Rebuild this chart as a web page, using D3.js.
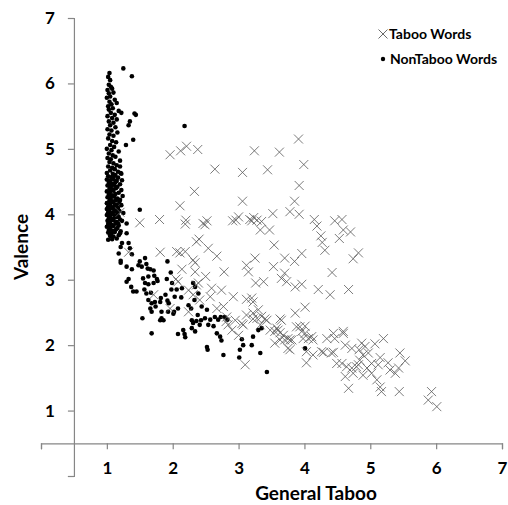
<!DOCTYPE html>
<html>
<head>
<meta charset="utf-8">
<script src="https://cdn.jsdelivr.net/npm/d3@7"></script>
<style>
body { margin: 0; background: #fff; }
svg { display: block; }
</style>
</head>
<body>
<script>

var xTicks = [0, 1, 2, 3, 4, 5, 6, 7];
var yTicks = [0, 1, 2, 3, 4, 5, 6, 7];
var legendLabels = ["Taboo Words", "NonTaboo Words"];

// Taboo words: [general taboo, valence]
var tabooPoints = [
[3.91,5.15],[1.96,4.91],[2.12,4.97],[2.21,5.04],[2.38,4.99],[3.24,4.97],[3.62,4.95],[3.99,4.76],
[2.64,4.69],[3.06,4.64],[3.44,4.68],[3.92,4.44],[2.33,4.35],[3.06,4.20],[3.85,4.20],[2.11,4.13],
[1.80,3.92],[2.20,3.91],[2.19,3.85],[2.46,3.86],[2.52,3.90],[2.49,3.84],[2.91,3.90],[3.00,3.96],
[2.96,3.91],[3.17,3.92],[3.23,3.95],[3.28,3.91],[3.20,3.90],[3.35,3.89],[3.33,3.76],[3.47,3.76],
[3.52,4.01],[3.78,4.04],[3.92,4.00],[4.15,3.92],[4.19,3.82],[4.25,3.67],[4.27,3.57],[4.31,3.45],
[4.46,3.90],[4.57,3.92],[4.53,3.63],[4.59,3.76],[2.40,3.62],[2.36,3.58],[3.54,3.53],[1.81,3.42],
[2.06,3.43],[2.11,3.41],[2.19,3.43],[2.31,3.30],[2.34,3.26],[2.67,3.36],[2.54,3.48],[3.25,3.33],
[3.12,3.22],[3.70,3.33],[3.53,3.20],[3.96,3.40],[3.85,3.28],[4.74,3.32],[4.82,3.41],[4.70,3.73],
[4.42,3.11],[3.96,2.93],[4.21,2.85],[4.39,2.77],[4.67,2.85],[4.01,2.58],[3.93,2.28],[4.01,2.18],
[4.11,2.13],[3.98,2.10],[4.34,2.10],[4.44,2.18],[4.59,2.18],[4.46,2.10],[4.13,1.85],[4.03,1.73],
[4.29,1.89],[4.44,1.89],[4.62,2.00],[4.72,1.95],[4.87,2.03],[4.83,1.93],[4.89,1.85],[4.84,1.77],
[5.07,2.02],[5.20,2.10],[5.15,1.81],[5.12,1.70],[5.27,1.73],[5.30,1.62],[5.45,1.88],[5.53,1.76],
[5.43,1.65],[5.38,1.57],[4.49,1.72],[4.64,1.67],[4.72,1.65],[4.79,1.67],[4.74,1.57],[4.62,1.52],
[4.95,1.65],[4.89,1.54],[5.02,1.57],[5.10,1.47],[5.17,1.29],[5.15,1.36],[4.67,1.34],[5.44,1.29],
[5.93,1.29],[5.88,1.16],[6.01,1.06],[1.33,3.42],[1.50,3.87],[1.20,4.03],[2.14,3.16],[2.34,3.12],
[2.78,3.12],[3.15,3.12],[3.70,3.10],[3.65,3.02],[2.05,3.01],[2.08,2.97],[2.24,2.84],[2.36,2.92],
[2.39,2.95],[2.59,2.87],[2.57,2.74],[2.74,2.84],[2.92,2.74],[3.12,2.70],[3.20,2.72],[3.22,2.66],
[3.26,2.95],[3.38,2.97],[3.86,2.89],[2.31,2.77],[1.71,2.77],[1.96,2.56],[2.24,2.51],[2.41,2.69],
[2.67,2.56],[2.77,2.59],[2.82,2.43],[2.81,2.36],[2.95,2.38],[3.12,2.46],[3.22,2.49],[3.28,2.41],
[3.30,2.54],[3.07,2.31],[3.33,2.31],[3.43,2.38],[3.48,2.23],[3.58,2.26],[3.63,2.19],[3.65,2.38],
[3.70,2.08],[3.78,2.08],[3.75,1.95],[3.86,2.49],[3.88,2.28],[3.10,1.70],[4.01,2.29],[3.96,2.21],
[3.55,2.21],[3.60,2.23],[3.68,2.15],[3.75,2.10],[3.81,2.08],[3.63,2.08],[3.55,2.03],[3.78,1.93],
[4.06,2.10],[4.13,2.08],[4.59,2.21],[4.03,1.90],[4.26,1.90],[4.41,1.88],[2.84,2.31],[3.00,2.15],
[2.90,2.23],[3.05,2.33],[4.92,1.98],[4.97,1.88],[4.57,1.72],[4.82,1.70],[5.02,1.72],[3.35,2.44],
[3.22,2.40],[3.40,2.40],[3.63,2.40],[3.73,2.97],[2.50,3.05]
];

// NonTaboo words: [general taboo, valence]
var nonTabooPoints = [
[1.04,6.16],[1.02,6.10],[1.05,6.05],[1.03,5.98],[1.06,5.95],[1.01,5.90],[1.08,5.92],[1.03,5.85],
[1.10,5.86],[1.05,5.80],[1.00,5.78],[1.12,5.75],[1.04,5.72],[1.07,5.68],[1.02,5.65],[1.15,5.70],
[1.09,5.62],[1.03,5.60],[1.18,5.58],[1.06,5.55],[1.12,5.52],[1.01,5.50],[1.22,5.55],[1.08,5.47],
[1.15,5.45],[1.25,6.23],[1.38,6.11],[1.42,5.54],[1.44,5.52],[1.35,5.42],[1.33,5.36],[1.40,5.14],
[1.29,5.06],[2.18,5.35],
[1.03,5.42],[1.10,5.40],[1.05,5.36],[1.13,5.33],[1.01,5.30],[1.07,5.28],[1.16,5.25],[1.04,5.22],
[1.10,5.20],[1.02,5.16],[1.08,5.12],[1.14,5.10],[1.05,5.06],[1.11,5.03],[1.00,5.00],[1.07,4.98],
[1.18,4.96],[1.03,4.93],[1.09,4.90],[1.13,4.88],[1.01,4.86],[1.06,4.84],[1.20,4.82],[1.04,4.80],
[1.10,4.78],[1.15,4.75],[1.02,4.73],[1.08,4.71],[1.12,4.69],[1.05,4.67],[1.17,4.65],[1.00,4.63],
[1.09,4.62],[1.13,4.60],[1.22,4.62],[1.20,4.73],[1.21,4.63],[1.23,4.52],
[1.02,4.58],[1.07,4.57],[1.12,4.59],[1.17,4.56],[1.00,4.53],[1.05,4.52],[1.10,4.54],[1.15,4.51],
[1.03,4.48],[1.08,4.47],[1.13,4.49],[1.20,4.46],[1.01,4.44],[1.06,4.43],[1.11,4.45],[1.16,4.42],
[1.04,4.39],[1.09,4.38],[1.14,4.40],[1.22,4.37],[1.00,4.35],[1.05,4.34],[1.10,4.36],[1.18,4.33],
[1.03,4.30],[1.08,4.29],[1.13,4.31],[1.24,4.28],[1.01,4.26],[1.06,4.25],[1.11,4.27],[1.16,4.24],
[1.20,4.22],[1.04,4.21],[1.09,4.20],[1.14,4.22],[1.19,4.19],[1.00,4.17],[1.05,4.16],[1.10,4.18],
[1.15,4.15],[1.22,4.14],[1.02,4.12],[1.07,4.11],[1.12,4.13],[1.17,4.10],[1.00,4.08],[1.04,4.07],
[1.09,4.09],[1.14,4.06],[1.19,4.05],[1.02,4.03],[1.06,4.02],[1.11,4.04],[1.16,4.01],[1.25,4.02],
[1.00,3.99],[1.05,3.98],[1.09,4.00],[1.13,3.97],[1.18,3.96],[1.03,3.94],[1.07,3.93],[1.12,3.95],
[1.20,3.92],[1.01,3.90],[1.05,3.89],[1.10,3.91],[1.15,3.88],[1.23,3.90],[1.02,3.85],[1.07,3.84],
[1.13,3.86],[1.18,3.83],[1.00,3.81],[1.05,3.80],[1.10,3.82],[1.16,3.79],[1.03,3.76],[1.08,3.75],
[1.14,3.77],[1.21,3.74],[1.02,3.72],[1.07,3.71],[1.12,3.73],[1.05,3.67],[1.10,3.66],[1.18,3.68],
[1.08,3.62],[1.15,3.63],
[1.50,4.07],[1.30,3.86],[1.15,3.96],[1.17,3.86],[1.05,3.68],[1.02,3.61],[1.20,3.71],[1.30,3.71],
[1.23,3.56],[1.33,3.56],[1.21,3.50],[1.35,3.48],[1.18,3.40],[1.38,3.39],[1.21,3.29],[1.21,3.26],
[1.58,3.33],[1.50,3.28],[1.48,3.22],[1.53,3.20],[1.30,3.20],[1.38,3.16],[1.60,3.24],[1.62,3.17],
[1.66,3.16],[1.71,3.14],[1.92,3.28],[1.97,3.11],[1.55,3.02],[1.63,3.05],[1.72,3.06],[1.76,3.01],
[1.33,3.01],[1.30,2.97],[1.37,2.89],[1.40,2.82],[1.45,2.82],[1.58,2.95],[1.63,2.93],[1.71,2.95],
[1.77,2.98],[1.57,2.85],[1.60,2.79],[1.67,2.80],[1.91,3.01],[1.99,2.95],[1.98,2.85],[2.06,2.85],
[1.89,2.77],[1.82,2.72],[1.81,2.66],[1.63,2.69],[1.68,2.64],[1.73,2.66],[2.14,2.87],[2.03,2.74],
[2.13,2.73],[1.92,2.68],[1.94,2.64],[1.74,2.59],[1.66,2.56],[1.68,2.51],[1.83,2.51],[1.93,2.51],
[2.02,2.51],[2.01,2.48],[2.08,2.56],[1.83,2.41],[1.86,2.38],[1.81,2.38],[1.54,2.41],[2.31,2.95],
[2.34,2.89],[2.39,2.79],[2.33,2.69],[2.24,2.61],[2.28,2.56],[2.44,2.59],[2.52,2.54],[2.38,2.46],
[2.29,2.38],[2.31,2.34],[2.36,2.37],[2.43,2.38],[2.49,2.41],[2.57,2.39],[2.64,2.43],[2.69,2.39],
[2.73,2.43],[2.08,2.17],[2.16,2.23],[2.18,2.17],[2.19,2.12],[2.29,2.26],[2.34,2.21],[2.41,2.31],
[2.54,2.31],[2.62,2.29],[1.68,2.18],[2.67,2.18],[2.72,2.13],[2.74,2.07],[2.52,1.97],[2.53,1.93],
[2.77,1.85],[2.79,2.43],[2.83,2.39],[3.05,2.09],[3.07,2.00],[3.02,1.93],[3.22,2.13],[3.20,2.00],
[3.01,1.81],[3.33,1.88],[3.30,2.23],[3.35,2.26],[3.43,1.59],[4.01,1.95]
];

var width = 508, height = 505;

var svg = d3.select("body").append("svg")
    .attr("width", width)
    .attr("height", height);

var x = d3.scaleLinear().domain([0, 7]).range([41, 502]);
var y = d3.scaleLinear().domain([0, 7]).range([476, 18]);

var fontFamily = "Lato, 'Open Sans', sans-serif";
var axisColor = "#868686";

// x axis crosses at valence 0.5
var xAxis = svg.append("g")
    .attr("transform", "translate(0," + y(0.5) + ")")
    .call(d3.axisBottom(x).tickValues(xTicks).tickSize(6).tickPadding(13)
        .tickFormat(function(d) { return d === 0 ? "" : d; }));

// y axis crosses at general taboo 0.5
var yAxis = svg.append("g")
    .attr("transform", "translate(" + x(0.5) + ",0)")
    .call(d3.axisLeft(y).tickValues(yTicks).tickSize(6).tickPadding(13)
        .tickFormat(function(d) { return d === 0 ? "" : d; }));

svg.selectAll(".domain, .tick line")
    .attr("stroke", axisColor)
    .attr("stroke-width", 1.2);

svg.selectAll(".tick text")
    .attr("fill", "#000")
    .attr("font-family", fontFamily)
    .attr("font-weight", "bold")
    .attr("font-size", "17px");

// non taboo dots
svg.append("g").selectAll("circle")
    .data(nonTabooPoints)
    .enter().append("circle")
    .attr("cx", function(d) { return x(d[0]); })
    .attr("cy", function(d) { return y(d[1]); })
    .attr("r", 2.3)
    .attr("fill", "#000");

// taboo crosses
var cross = "M-4.5,-4.5L4.5,4.5M-4.5,4.5L4.5,-4.5";
svg.append("g").selectAll("path")
    .data(tabooPoints)
    .enter().append("path")
    .attr("d", cross)
    .attr("transform", function(d) { return "translate(" + x(d[0]) + "," + y(d[1]) + ")"; })
    .attr("fill", "none")
    .attr("stroke", "#5a5a5a")
    .attr("stroke-opacity", 0.8)
    .attr("stroke-width", 1);

// axis titles
svg.append("text")
    .attr("x", 316)
    .attr("y", 500)
    .attr("text-anchor", "middle")
    .attr("font-family", fontFamily)
    .attr("font-weight", "bold")
    .attr("font-size", "19px")
    .text("General Taboo");

svg.append("text")
    .attr("transform", "translate(28,247) rotate(-90)")
    .attr("text-anchor", "middle")
    .attr("font-family", fontFamily)
    .attr("font-weight", "bold")
    .attr("font-size", "19px")
    .text("Valence");

// legend
var legend = svg.append("g").attr("transform", "translate(383,34)");

legend.append("path")
    .attr("d", "M-4.5,-4.5L4.5,4.5M-4.5,4.5L4.5,-4.5")
    .attr("fill", "none")
    .attr("stroke", "#6a6a6a")
    .attr("stroke-width", 1);

legend.append("circle")
    .attr("cx", 0)
    .attr("cy", 25)
    .attr("r", 2.2)
    .attr("fill", "#000");

legend.selectAll("text")
    .data(legendLabels)
    .enter().append("text")
    .attr("x", function(d, i) { return i === 0 ? 6 : 7; })
    .attr("y", function(d, i) { return i * 25 + 5; })
    .attr("font-family", fontFamily)
    .attr("font-weight", "bold")
    .attr("font-size", "14px")
    .text(function(d) { return d; });

</script>
</body>
</html>
